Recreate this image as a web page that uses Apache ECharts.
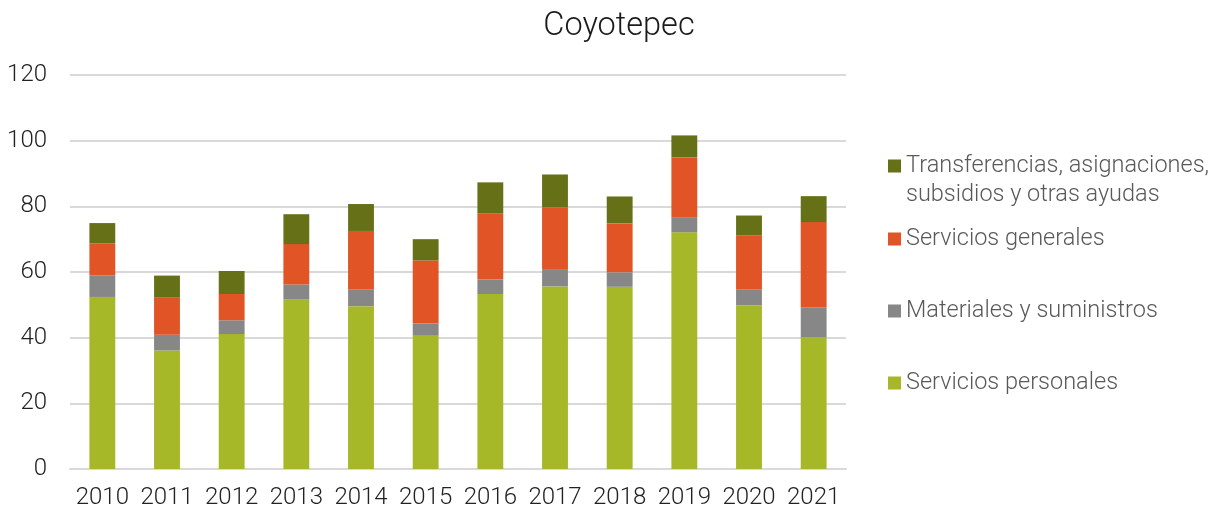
<!DOCTYPE html>
<html>
<head>
    <meta charset="UTF-8">
    <title>Coyotepec</title>
    <script src="https://cdn.jsdelivr.net/npm/echarts@6/dist/echarts.min.js"></script>
    <style>
        html, body { margin: 0; padding: 0; background: #fff; }
        #chart { width: 1220px; height: 511px; }
    </style>
</head>
<body>
    <div id="chart"></div>
    <script>
        // datos
        const years = ['2010', '2011', '2012', '2013', '2014', '2015', '2016', '2017', '2018', '2019', '2020', '2021'];
        const serviciosPersonales = [52.4, 36.1, 41.1, 51.6, 49.6, 40.8, 53.3, 55.6, 55.5, 72.1, 49.9, 40.1];
        const materiales = [6.6, 4.8, 4.2, 4.6, 5.1, 3.5, 4.4, 5.3, 4.4, 4.6, 4.8, 9.1];
        const serviciosGenerales = [9.7, 11.3, 8.0, 12.3, 17.8, 19.2, 20.1, 18.7, 14.9, 18.2, 16.4, 26.0];
        const transferencias = [6.2, 6.7, 7.0, 9.1, 8.2, 6.5, 9.5, 10.1, 8.2, 6.7, 6.1, 7.9];

        const names = [
            'Servicios personales',
            'Materiales y suministros',
            'Servicios generales',
            'Transferencias, asignaciones, subsidios y otras ayudas'
        ];
        const colors = ['#a6b727', '#878787', '#e05426', '#667017'];
        const values = [serviciosPersonales, materiales, serviciosGenerales, transferencias];

        const font = 'Roboto, "Liberation Sans", sans-serif';

        const chart = echarts.init(document.getElementById('chart'));

        // una leyenda por elemento para colocarlas como en el original
        const legendCenters = [383, 311, 239, 166];
        const legends = names.map((n, i) => {
            const multi = i === 3;
            const h = multi ? 87 : 29;
            return {
                data: [n],
                orient: 'vertical',
                left: 888,
                top: legendCenters[i] - h / 2,
                padding: 0,
                itemWidth: 13,
                itemHeight: 13,
                itemGap: 0,
                icon: 'rect',
                selectedMode: false,
                formatter: multi ? () => '\nTransferencias, asignaciones,\nsubsidios y otras ayudas' : undefined,
                textStyle: {
                    fontFamily: font,
                    fontWeight: 300,
                    fontSize: 23.5,
                    lineHeight: 29,
                    color: '#595959'
                }
            };
        });

        const option = {
            color: colors,
            title: {
                text: 'Coyotepec',
                left: 614,
                textAlign: 'center',
                top: 5,
                textStyle: {
                    fontFamily: font,
                    fontWeight: 300,
                    fontSize: 32.5,
                    color: '#1a1a1a'
                }
            },
            legend: legends,
            grid: {
                left: 70,
                right: 374,
                top: 75,
                bottom: 42,
                containLabel: false
            },
            xAxis: {
                type: 'category',
                data: years,
                axisLine: { lineStyle: { color: '#d9d9d9', width: 2 } },
                axisTick: { show: false },
                axisLabel: {
                    interval: 0,
                    fontFamily: font,
                    fontWeight: 300,
                    fontSize: 24,
                    color: '#222',
                    margin: 17
                }
            },
            yAxis: {
                type: 'value',
                min: 0,
                max: 120,
                interval: 20,
                axisLine: { show: false },
                axisTick: { show: false },
                splitLine: { lineStyle: { color: '#d9d9d9', width: 2 } },
                axisLabel: {
                    fontFamily: font,
                    fontWeight: 300,
                    fontSize: 24,
                    color: '#222',
                    margin: 23
                }
            },
            series: names.map((n, i) => ({
                name: n,
                type: 'bar',
                stack: 'total',
                barWidth: '40%',
                data: values[i],
                itemStyle: { color: colors[i] }
            }))
        };

        chart.setOption(option);
    </script>
</body>
</html>
